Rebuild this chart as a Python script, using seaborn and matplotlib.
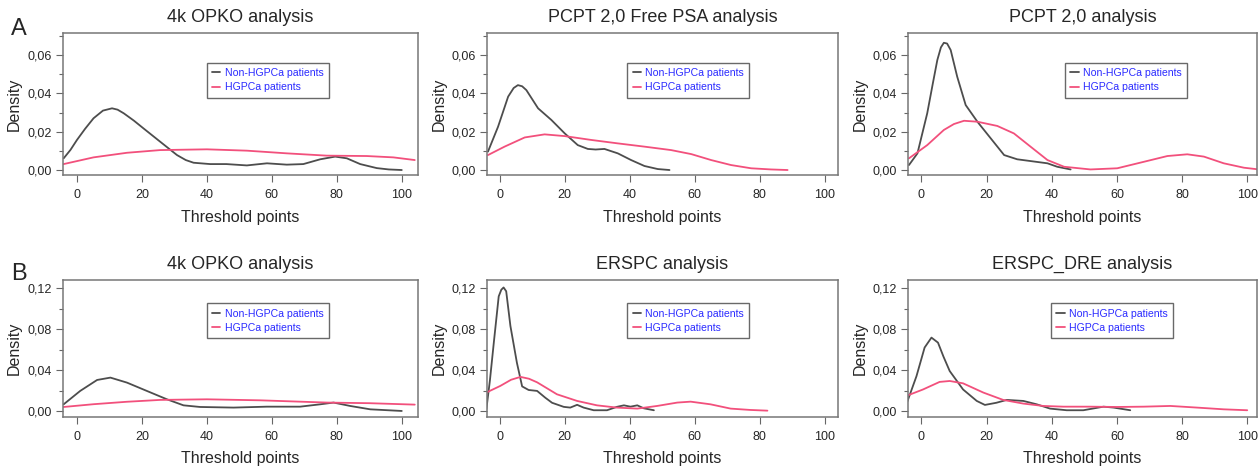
import matplotlib
matplotlib.use('Agg')
import matplotlib.pyplot as plt
import matplotlib.ticker as mticker
import numpy as np
import pandas as pd
import seaborn as sns

# values (threshold points vs density)
opko_non_x = [-4.1, -2, 0, 2.5, 5.1, 8, 10.8, 12.5, 14.4, 17.5, 20.5, 25.6, 30.8, 33.5, 35.9, 41, 46, 52.3, 58.5, 64.6, 69.7, 74.9, 79.5, 83.1, 87.2, 92.3, 96, 100]
opko_non_y = [0.0061, 0.0105, 0.0157, 0.0215, 0.027, 0.031, 0.0322, 0.0315, 0.0296, 0.0258, 0.0217, 0.0148, 0.0078, 0.0052, 0.0038, 0.0031, 0.0031, 0.0024, 0.0035, 0.0028, 0.0031, 0.0056, 0.0070, 0.0061, 0.0031, 0.0010, 0.0003, 0.0]
opko_hg_x = [-4.1, 5.1, 15.4, 25.6, 40, 52.3, 64.6, 76.9, 89.2, 97.4, 104]
opko_hg_y = [0.0031, 0.0066, 0.0090, 0.0104, 0.0108, 0.0101, 0.0087, 0.0075, 0.0073, 0.0066, 0.0052]

free_non_x = [-3.6, -0.5, 2.6, 4.3, 5.6, 6.9, 8.2, 11.8, 15.9, 20, 24, 27.1, 29.5, 32.2, 36.3, 40.4, 44.5, 48.6, 52.2]
free_non_y = [0.0096, 0.0226, 0.0383, 0.0428, 0.0443, 0.0437, 0.0417, 0.0322, 0.0261, 0.0191, 0.0130, 0.0110, 0.0107, 0.0110, 0.0087, 0.0052, 0.0021, 0.0005, 0.0]
free_hg_x = [-3.6, 1.5, 7.7, 13.8, 20, 28.1, 36.3, 44.5, 52.7, 58.9, 65, 71.1, 77.3, 83.4, 88.5]
free_hg_y = [0.0078, 0.0122, 0.0170, 0.0186, 0.0177, 0.0157, 0.0139, 0.0122, 0.0104, 0.0083, 0.0052, 0.0026, 0.0009, 0.0003, 0.0]

pcpt_non_x = [-3.8, -1.2, 1.8, 3.5, 4.9, 6.0, 6.9, 7.9, 9, 11, 13.6, 17.2, 21.3, 25.4, 29.4, 35.6, 38.7, 41.7, 45.8]
pcpt_non_y = [0.0026, 0.0087, 0.0296, 0.0450, 0.0574, 0.0640, 0.0664, 0.0660, 0.0626, 0.0487, 0.0339, 0.0252, 0.0165, 0.0078, 0.0056, 0.0042, 0.0035, 0.0017, 0.0003]
pcpt_hg_x = [-3.8, 1.8, 6.9, 10, 13.1, 17.2, 23.3, 28.4, 33.5, 38.7, 43.8, 51.9, 60.1, 68.3, 75.5, 81.6, 86.7, 92.8, 99, 103.6]
pcpt_hg_y = [0.0061, 0.0130, 0.0209, 0.0240, 0.0257, 0.0252, 0.0230, 0.0191, 0.0122, 0.0052, 0.0017, 0.0003, 0.0009, 0.0043, 0.0073, 0.0082, 0.0070, 0.0035, 0.0012, 0.0003]

opko2_non_x = [-4.1, 1, 6.2, 10.3, 15.4, 21.5, 27.7, 32.8, 37.9, 48.2, 58.5, 68.7, 74.9, 79, 84.1, 90.3, 100]
opko2_non_y = [0.0065, 0.0196, 0.0303, 0.0326, 0.0277, 0.0196, 0.0114, 0.0055, 0.0039, 0.0033, 0.0042, 0.0042, 0.0065, 0.0082, 0.0049, 0.0016, 0.0]
opko2_hg_x = [-4.1, 5.1, 15.4, 25.6, 40, 56.4, 77, 90, 104]
opko2_hg_y = [0.0039, 0.0066, 0.0090, 0.0108, 0.0114, 0.0104, 0.0082, 0.0076, 0.0062]

erspc_non_x = [-4.1, -3.0, -1.8, -0.3, 0.5, 1.2, 2.0, 3.3, 5.3, 6.9, 8.9, 11.5, 14, 16.1, 19.7, 21.7, 23.8, 25.8, 28.9, 33, 36, 38.2, 40.2, 42.3, 44.3, 47.4]
erspc_non_y = [0.0016, 0.030, 0.067, 0.112, 0.1185, 0.1207, 0.1170, 0.083, 0.047, 0.024, 0.0205, 0.0196, 0.013, 0.008, 0.004, 0.0033, 0.006, 0.0033, 0.0007, 0.0007, 0.004, 0.0055, 0.0042, 0.0055, 0.0026, 0.0007]
erspc_hg_x = [-4.1, 0.2, 3.5, 6.4, 9, 11.5, 17.6, 23.8, 29.9, 36, 42.3, 48.4, 54.6, 58.7, 64.8, 71, 77, 82.3]
erspc_hg_y = [0.018, 0.0245, 0.0305, 0.0333, 0.0315, 0.028, 0.0163, 0.0098, 0.0055, 0.0033, 0.0023, 0.0049, 0.0082, 0.0091, 0.0065, 0.0023, 0.0010, 0.0003]

dre_non_x = [-4.6, -1.5, 1.0, 3.1, 5.1, 6.8, 8.7, 12.8, 17, 19.5, 23, 26.2, 31.3, 35.4, 39.5, 44.6, 49.7, 55.9, 59, 64.1]
dre_non_y = [0.0065, 0.034, 0.062, 0.0717, 0.0668, 0.053, 0.039, 0.021, 0.0098, 0.0059, 0.008, 0.0108, 0.0098, 0.0065, 0.0023, 0.0007, 0.0007, 0.0042, 0.0033, 0.0007]
dre_hg_x = [-4.6, 0.5, 5.6, 8.7, 12.8, 19, 25.1, 31.3, 37.4, 43.6, 51.8, 60, 68.2, 76.4, 84.6, 92.8, 100]
dre_hg_y = [0.0147, 0.021, 0.0284, 0.0293, 0.027, 0.018, 0.0108, 0.0072, 0.0049, 0.0042, 0.0042, 0.0039, 0.0042, 0.0049, 0.0033, 0.0016, 0.0007]

titles = ['4k OPKO analysis', 'PCPT 2,0 Free PSA analysis', 'PCPT 2,0 analysis',
          '4k OPKO analysis', 'ERSPC analysis', 'ERSPC_DRE analysis']
series = [(opko_non_x, opko_non_y, opko_hg_x, opko_hg_y),
          (free_non_x, free_non_y, free_hg_x, free_hg_y),
          (pcpt_non_x, pcpt_non_y, pcpt_hg_x, pcpt_hg_y),
          (opko2_non_x, opko2_non_y, opko2_hg_x, opko2_hg_y),
          (erspc_non_x, erspc_non_y, erspc_hg_x, erspc_hg_y),
          (dre_non_x, dre_non_y, dre_hg_x, dre_hg_y)]

gray_col = '#4d4d4d'
pink_col = '#f2507c'

sns.set_style('ticks')
plt.rcParams['font.family'] = ['Liberation Sans', 'DejaVu Sans']

fig = plt.figure(figsize=(12.6, 4.71), dpi=100)

col_left = [63, 487, 908]
col_width = [355, 351, 349]
col_xlim = [(-4.3, 105), (-3.9, 104), (-4.1, 103)]
row_bottom = [1 - 175 / 471, 1 - 417 / 471]
row_height = [142 / 471, 137 / 471]
row_ylim = [(-0.0026, 0.0715), (-0.0059, 0.128)]
legend_x = [0.405, 0.40, 0.45, 0.405, 0.40, 0.41]
legend_y = [0.79, 0.79, 0.79, 0.83, 0.83, 0.83]

for i, (title, (nx, ny, hx, hy)) in enumerate(zip(titles, series)):
    row, col = divmod(i, 3)
    ax = fig.add_axes([col_left[col] / 1260, row_bottom[row], col_width[col] / 1260, row_height[row]])
    sns.lineplot(x=nx, y=ny, ax=ax, color=gray_col, lw=1.3, label='Non-HGPCa patients')
    sns.lineplot(x=hx, y=hy, ax=ax, color=pink_col, lw=1.3, label='HGPCa patients')
    ax.set_xlim(*col_xlim[col])
    ax.set_ylim(*row_ylim[row])
    ax.xaxis.set_major_locator(mticker.MultipleLocator(20))
    if row == 0:
        ax.yaxis.set_major_locator(mticker.MultipleLocator(0.02))
        ax.yaxis.set_minor_locator(mticker.MultipleLocator(0.01))
    else:
        ax.yaxis.set_major_locator(mticker.MultipleLocator(0.04))
        ax.yaxis.set_minor_locator(mticker.MultipleLocator(0.02))
    ax.yaxis.set_major_formatter(mticker.FuncFormatter(lambda v, p: f'{v:.2f}'.replace('.', ',')))
    ax.tick_params(axis='both', which='major', length=5, width=0.8, color='#666666', labelsize=9, pad=3)
    ax.tick_params(axis='x', which='major', pad=5)
    ax.tick_params(axis='y', which='minor', length=3, width=0.8, color='#666666')
    for s in ax.spines.values():
        s.set_color('#777777')
        s.set_linewidth(1.1)
    ax.set_title(title, fontsize=13, pad=8)
    ax.set_xlabel('Threshold points', fontsize=11.5)
    ax.set_ylabel('Density', fontsize=11.5)
    ax.xaxis.set_label_coords(0.5, -0.25)
    ax.yaxis.set_label_coords(-0.115, 0.5)
    leg = ax.legend(loc='upper left', bbox_to_anchor=(legend_x[i], legend_y[i]), borderaxespad=0,
                    fontsize=7.6, labelcolor='#2b2bff', frameon=True, fancybox=False,
                    edgecolor='#444444', handlelength=0.8, handletextpad=0.4,
                    labelspacing=0.4, borderpad=0.5)
    leg.get_frame().set_linewidth(1.0)

fig.text(11 / 1260, 1 - 35 / 471, 'A', fontsize=17, va='baseline', ha='left')
fig.text(11 / 1260, 1 - 280 / 471, 'B', fontsize=17, va='baseline', ha='left')

fig.savefig('out.png', dpi=100)
